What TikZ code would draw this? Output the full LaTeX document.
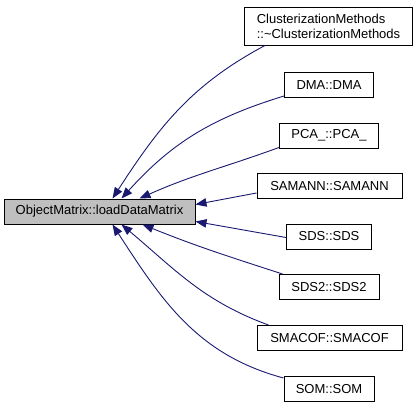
\documentclass[tikz,border=0pt]{standalone}
\usepackage{fontspec}
\setmainfont{Liberation Sans}
\usetikzlibrary{arrows.meta}
\definecolor{midnight}{HTML}{191970}

\begin{document}
\begin{tikzpicture}[x=1pt,y=-1pt,
  fn/.style={draw=black,line width=1pt,fill=white,inner sep=0pt,minimum height=25pt,font=\fontsize{13}{15}\selectfont},
  call/.style={midnight,line width=0.9pt,-{Triangle[length=11pt,width=8.5pt]}}]
\useasboundingbox (0,0) rectangle (416,407);
\node[fn,fill=black!25,minimum width=191pt] (load) at (99.5,211.5) {ObjectMatrix::loadDataMatrix};
\node[fn,minimum width=168pt,minimum height=38pt,align=left] (clus) at (328.5,26) {ClusterizationMethods\\::\textasciitilde ClusterizationMethods};
\node[fn,minimum width=89pt] (dma) at (329,85) {DMA::DMA};
\node[fn,minimum width=99pt] (pca) at (329,135.5) {PCA\_::PCA\_};
\node[fn,minimum width=145pt] (samann) at (329.5,186) {SAMANN::SAMANN};
\node[fn,minimum width=85pt] (sds) at (329,236.5) {SDS::SDS};
\node[fn,minimum width=100pt] (sds2) at (329,287) {SDS2::SDS2};
\node[fn,minimum width=145pt] (smacof) at (329.5,338) {SMACOF::SMACOF};
\node[fn,minimum width=90pt] (som) at (329,389) {SOM::SOM};
% callers of loadDataMatrix
\draw[call] ([xshift=21pt]clus.south west) to[out=208,in=57] ([xshift=109pt]load.north west);
\draw[call] ([yshift=2pt]dma.south west) to[out=197,in=48] ([xshift=118pt]load.north west);
\draw[call] ([yshift=1pt]pca.south west) to[out=200,in=24] ([xshift=136pt]load.north west);
\draw[call] ([yshift=6pt]samann.south west) -- ([yshift=-6pt]load.north east);
\draw[call] ([yshift=-1pt]sds.west) -- ([yshift=3pt]load.south east);
\draw[call] ([xshift=4pt]sds2.north west) to[out=162,in=-22] ([xshift=139pt]load.south west);
\draw[call] ([xshift=12pt]smacof.north west) to[out=160,in=-40] ([xshift=118pt]load.south west);
\draw[call] ([yshift=-2pt]som.north west) to[out=165,in=-57] ([xshift=109pt]load.south west);
\end{tikzpicture}
\end{document}
